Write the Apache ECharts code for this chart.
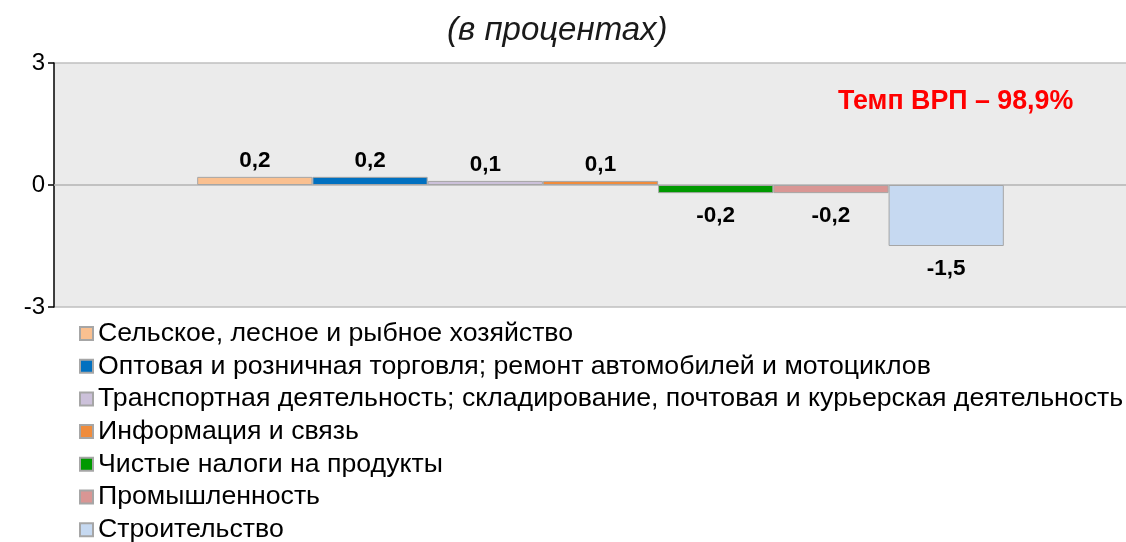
<!DOCTYPE html>
<html><head><meta charset="utf-8">
<script src="https://cdn.jsdelivr.net/npm/echarts@6/dist/echarts.min.js"></script>
<style>html,body{margin:0;padding:0;background:#fff}#c{width:1126px;height:542px}</style>
</head><body><div id="c"></div>
<script>
const seriesNames = [
  'Сельское, лесное и рыбное хозяйство',
  'Оптовая и розничная торговля; ремонт автомобилей и мотоциклов',
  'Транспортная деятельность; складирование, почтовая и курьерская деятельность',
  'Информация и связь',
  'Чистые налоги на продукты',
  'Промышленность',
  'Строительство'
];
const seriesValues = [0.2, 0.2, 0.1, 0.1, -0.2, -0.2, -1.5];
const seriesColors = ['#FAC090', '#0070C0', '#CCC1DA', '#F08C3C', '#009900', '#D99694', '#C6D9F1'];
const titleText = '(в процентах)';
const noteText = 'Темп ВРП – 98,9%';
const yTicks = {min: -3, max: 3, interval: 3};

const FONT = 'Liberation Sans, Arial, sans-serif';
const chart = echarts.init(document.getElementById('c'));
const series = seriesNames.map((n, i) => ({
  name: n,
  type: 'bar',
  barGap: '0%',
  barCategoryGap: '26.2%',
  itemStyle: {color: seriesColors[i], borderColor: '#A6A6A6', borderWidth: 1},
  label: {
    show: true,
    position: seriesValues[i] >= 0 ? 'top' : 'bottom',
    distance: seriesValues[i] >= 0 ? 5 : 11,
    fontFamily: FONT,
    fontSize: 22.5, fontWeight: 'bold', color: '#000',
    formatter: p => String(p.value).replace('.', ',')
  },
  data: [seriesValues[i]]
}));
chart.setOption({
  animation: false,
  textStyle: {fontFamily: FONT},
  title: {
    text: titleText, left: 442, top: 9,
    textStyle: {fontSize: 33, fontStyle: 'italic', fontWeight: 'normal', color: '#1a1a1a', fontFamily: FONT}
  },
  graphic: [{
    type: 'text', left: 838, top: 88,
    style: {text: noteText, fill: '#FF0000', font: 'bold 26.8px "Liberation Sans", Arial, sans-serif'}
  }],
  grid: {left: 54, width: 1093, top: 63, height: 244, show: true, backgroundColor: '#EBEBEB', borderWidth: 0, outerBoundsMode: 'none', containLabel: false},
  legend: {
    orient: 'vertical', left: 74, top: 315, height: 260,
    itemWidth: 13, itemHeight: 13, itemGap: 5.7,
    icon: 'rect',
    textStyle: {fontSize: 26.7, color: '#000', lineHeight: 26, fontFamily: FONT},
    data: seriesNames
  },
  xAxis: {
    type: 'category', data: [''],
    axisLine: {show: true, onZero: true, lineStyle: {color: '#BFBFBF', width: 1.5}},
    axisTick: {show: false}, axisLabel: {show: false}
  },
  yAxis: {
    type: 'value', min: yTicks.min, max: yTicks.max, interval: yTicks.interval,
    axisLine: {show: true, lineStyle: {color: '#000', width: 1.5}},
    axisTick: {show: true, length: 6, lineStyle: {color: '#000', width: 1.5}},
    axisLabel: {fontSize: 24, color: '#000', margin: 9, formatter: v => String(v)},
    splitLine: {show: true, lineStyle: {color: '#BFBFBF', width: 1.5}}
  },
  series: series
});
</script></body></html>
